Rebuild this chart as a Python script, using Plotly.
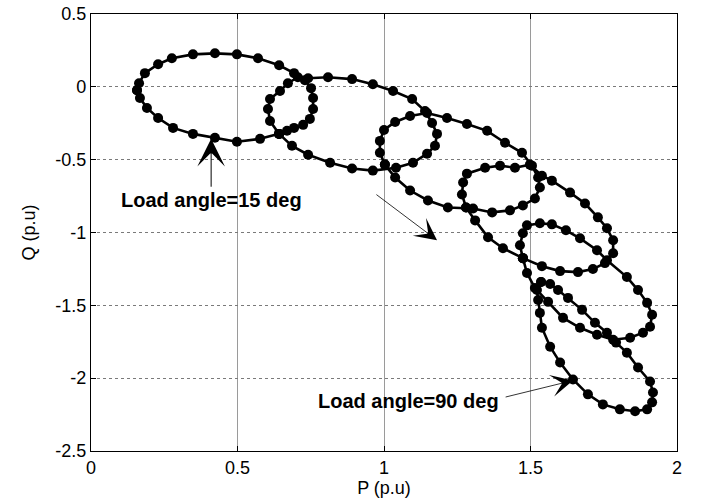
import plotly.graph_objects as go

# Load angles of the six traces (deg)
load_angles = [15, 30, 45, 60, 75, 90]

# P-Q trajectories (p.u)
P_15 = [0.157, 0.164, 0.184, 0.229, 0.276, 0.348, 0.423, 0.498, 0.570, 0.642, 0.693, 0.730, 0.751, 0.758,
        0.758, 0.747, 0.724, 0.693, 0.669, 0.642, 0.577, 0.498, 0.423, 0.348, 0.280, 0.229, 0.191, 0.167]
Q_15 = [-0.023, 0.025, 0.094, 0.155, 0.196, 0.223, 0.230, 0.223, 0.196, 0.148, 0.094, 0.046, -0.009, -0.077,
        -0.152, -0.220, -0.261, -0.282, -0.302, -0.323, -0.357, -0.377, -0.350, -0.323, -0.282, -0.214, -0.145, -0.077]

P_30 = [0.642, 0.611, 0.604, 0.611, 0.645, 0.672, 0.706, 0.741, 0.809, 0.891, 0.962, 1.031, 1.096, 1.140,
        1.164, 1.181, 1.174, 1.147, 1.099, 1.041, 0.962, 0.891, 0.816, 0.741, 0.686]
Q_30 = [-0.323, -0.234, -0.152, -0.084, -0.029, 0.025, 0.066, 0.059, 0.066, 0.053, 0.018, -0.029, -0.084, -0.166,
        -0.248, -0.323, -0.405, -0.459, -0.521, -0.555, -0.575, -0.561, -0.521, -0.466, -0.405]

P_45 = [1.003, 0.986, 0.986, 1.000, 1.038, 1.089, 1.147, 1.215, 1.283, 1.352, 1.413, 1.471, 1.505, 1.526,
        1.532, 1.515, 1.474, 1.430, 1.369, 1.304, 1.218, 1.150, 1.089, 1.038]
Q_45 = [-0.534, -0.453, -0.371, -0.296, -0.241, -0.200, -0.180, -0.214, -0.255, -0.302, -0.384, -0.453, -0.541, -0.623,
        -0.691, -0.767, -0.814, -0.848, -0.862, -0.835, -0.828, -0.780, -0.712, -0.623]

P_60 = [1.280, 1.266, 1.270, 1.283, 1.345, 1.396, 1.447, 1.498, 1.539, 1.573, 1.635, 1.686, 1.730, 1.761,
        1.782, 1.782, 1.754, 1.713, 1.662, 1.601, 1.539, 1.474, 1.406, 1.355, 1.311]
Q_60 = [-0.828, -0.739, -0.657, -0.596, -0.555, -0.541, -0.555, -0.534, -0.610, -0.644, -0.726, -0.801, -0.896, -0.971,
        -1.053, -1.142, -1.210, -1.251, -1.272, -1.265, -1.231, -1.176, -1.108, -1.033, -0.917]

P_75 = [1.474, 1.464, 1.474, 1.488, 1.532, 1.573, 1.621, 1.669, 1.727, 1.761, 1.829, 1.867, 1.898, 1.915,
        1.908, 1.884, 1.840, 1.782, 1.727, 1.669, 1.611, 1.560, 1.515, 1.488]
Q_75 = [-1.176, -1.087, -1.005, -0.951, -0.937, -0.944, -0.985, -1.040, -1.122, -1.190, -1.306, -1.395, -1.483, -1.565,
        -1.647, -1.688, -1.722, -1.736, -1.702, -1.654, -1.586, -1.476, -1.381, -1.278]

P_90 = [1.536, 1.567, 1.594, 1.628, 1.676, 1.720, 1.761, 1.792, 1.829, 1.867, 1.908, 1.918, 1.915, 1.898,
        1.857, 1.805, 1.747, 1.696, 1.645, 1.601, 1.567, 1.539, 1.532, 1.526, 1.522]
Q_90 = [-1.340, -1.354, -1.395, -1.449, -1.531, -1.620, -1.688, -1.756, -1.825, -1.927, -2.023, -2.098, -2.166, -2.214,
        -2.227, -2.214, -2.180, -2.111, -2.009, -1.893, -1.784, -1.654, -1.552, -1.463, -1.395]

x_ticks = [0, 0.5, 1, 1.5, 2]
x_tick_labels = ["0", "0.5", "1", "1.5", "2"]
y_ticks = [0.5, 0, -0.5, -1, -1.5, -2, -2.5]
y_tick_labels = ["0.5", "0", "-0.5", "-1", "-1.5", "-2", "-2.5"]

series_P = [P_15, P_30, P_45, P_60, P_75, P_90]
series_Q = [Q_15, Q_30, Q_45, Q_60, Q_75, Q_90]

FONT = "Liberation Sans, Arial, Helvetica, sans-serif"

fig = go.Figure()
for ang, P, Q in zip(load_angles, series_P, series_Q):
    fig.add_trace(go.Scatter(
        x=P + P[:1], y=Q + Q[:1],
        mode="lines+markers",
        name=f"{ang} deg",
        line=dict(color="black", width=2.6),
        marker=dict(color="black", size=10),
        showlegend=False,
    ))

annotations = [
    # arrow to the 15 deg trace
    dict(x=0.41, y=-0.357, ax=0.41, ay=-0.696, xref="x", yref="y", axref="x", ayref="y",
         text="", showarrow=True, arrowhead=3, arrowsize=4.6, arrowwidth=1, arrowcolor="black"),
    dict(x=0.41, y=-0.78, xref="x", yref="y", text="<b>Load angle=15 deg</b>", showarrow=False,
         font=dict(family=FONT, size=20, color="black")),
    # direction arrow
    dict(x=1.181, y=-1.053, ax=0.969, ay=-0.732, xref="x", yref="y", axref="x", ayref="y",
         text="", showarrow=True, arrowhead=3, arrowsize=4.6, arrowwidth=0.8, arrowcolor="black"),
    # arrow to the 90 deg trace
    dict(x=1.645, y=-2.016, ax=1.41, ay=-2.132, xref="x", yref="y", axref="x", ayref="y",
         text="", showarrow=True, arrowhead=3, arrowsize=4.6, arrowwidth=0.8, arrowcolor="black"),
    dict(x=1.398, y=-2.159, xref="x", yref="y", xanchor="right", text="<b>Load angle=90 deg</b>", showarrow=False,
         font=dict(family=FONT, size=20, color="black")),
]

fig.update_layout(
    width=703, height=502,
    margin=dict(l=91, r=26, t=14, b=51),
    paper_bgcolor="white", plot_bgcolor="white",
    font=dict(family=FONT, size=18, color="black"),
    annotations=annotations,
)

fig.update_xaxes(
    range=[0, 2], tickmode="array", tickvals=x_ticks, ticktext=x_tick_labels,
    ticks="inside", ticklen=5, tickcolor="black", mirror="allticks",
    showline=True, linecolor="black", linewidth=1.2, automargin=False,
    showgrid=True, gridcolor="#9a9a9a", gridwidth=1, zeroline=False,
    tickfont=dict(family=FONT, size=18, color="black"),
    title=dict(text="P (p.u)", font=dict(family=FONT, size=18, color="black"), standoff=2),
)
fig.update_yaxes(
    range=[-2.5, 0.5], tickmode="array", tickvals=y_ticks, ticktext=y_tick_labels,
    ticks="inside", ticklen=5, tickcolor="black", mirror="allticks",
    showline=True, linecolor="black", linewidth=1.2, automargin=False,
    showgrid=True, gridcolor="#7a7a7a", gridwidth=1, griddash="dot", zeroline=False,
    tickfont=dict(family=FONT, size=18, color="black"),
    title=dict(text="Q (p.u)", font=dict(family=FONT, size=18, color="black"), standoff=14),
)

fig.write_html("out.html")
